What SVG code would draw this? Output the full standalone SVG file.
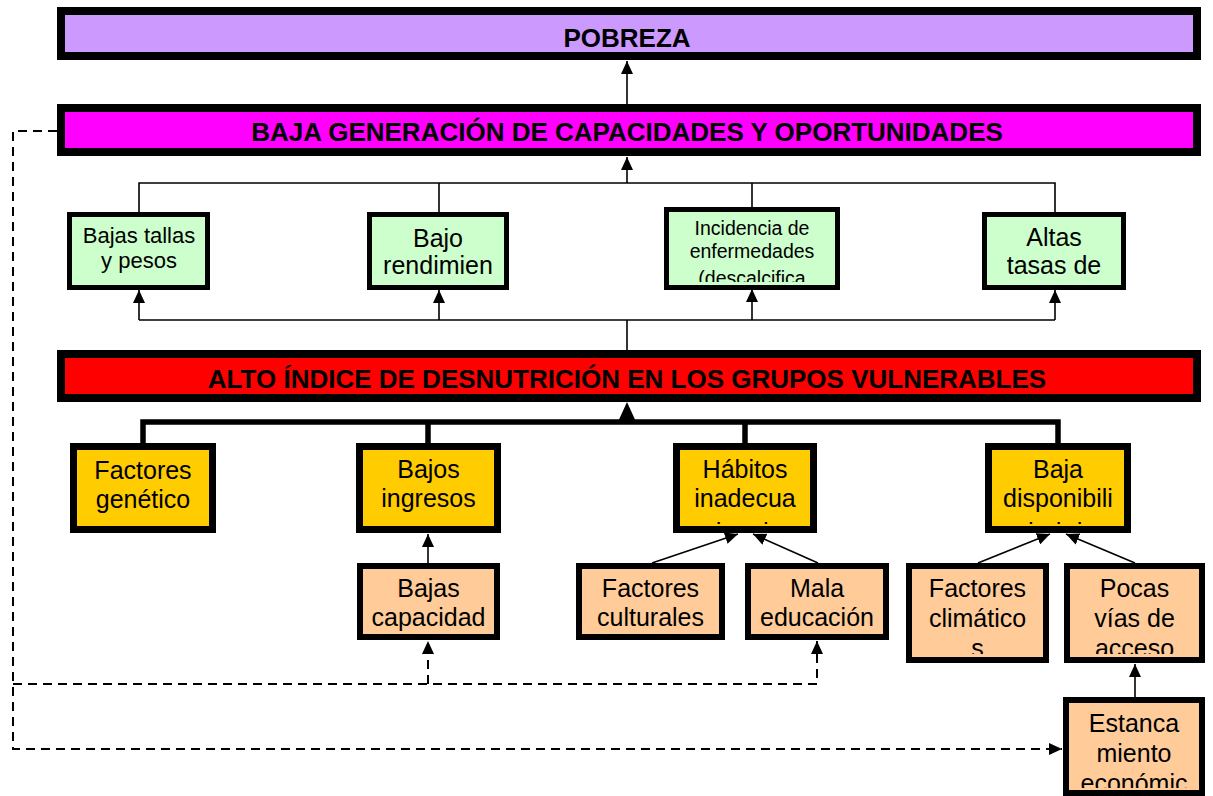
<svg xmlns="http://www.w3.org/2000/svg" width="1213" height="796" viewBox="0 0 1213 796">
<style>
.t{font-family:"Liberation Sans",Arial,sans-serif;fill:#000;text-anchor:middle}
.title{font-weight:bold;font-size:26px}
.b{stroke:#000;stroke-linejoin:miter}
.big{stroke-width:8}
.gr{fill:#CCFFCC;stroke-width:5}
.ye{fill:#FFCC00;stroke-width:7}
.or{fill:#FFCC99;stroke-width:6}
.ln{fill:none;stroke:#000;stroke-width:1.6}
.thick{fill:none;stroke:#000;stroke-width:5.5}
.dash{fill:none;stroke:#000;stroke-width:2;stroke-dasharray:9 6}
</style>
<defs>
<marker id="arr" viewBox="0 0 13 12" refX="13" refY="6" markerWidth="13" markerHeight="12" markerUnits="userSpaceOnUse" orient="auto">
<path d="M0,0 L13,6 L0,12 z" fill="#000"/>
</marker>
<clipPath id="cInc"><rect x="667" y="211" width="170" height="71"/></clipPath>
<clipPath id="cHab"><rect x="677" y="447" width="137" height="77"/></clipPath>
<clipPath id="cDis"><rect x="989" y="447" width="139" height="77"/></clipPath>
<clipPath id="cCli"><rect x="909" y="566" width="137" height="88"/></clipPath>
<clipPath id="cPoc"><rect x="1067" y="566" width="135" height="88"/></clipPath>
<clipPath id="cEst"><rect x="1066" y="700" width="136" height="88"/></clipPath>
</defs>

<g id="connectors">
<line class="ln" x1="627" y1="104" x2="627" y2="61" marker-end="url(#arr)"/>
<line class="ln" x1="627" y1="183" x2="627" y2="157" marker-end="url(#arr)"/>
<path class="ln" d="M139,212 V183 H1055 V212"/>
<line class="ln" x1="439" y1="183" x2="439" y2="212"/>
<line class="ln" x1="752" y1="183" x2="752" y2="207"/>
<line class="ln" x1="627" y1="350" x2="627" y2="320"/>
<line class="ln" x1="139" y1="320" x2="1055" y2="320"/>
<line class="ln" x1="139" y1="320" x2="139" y2="290" marker-end="url(#arr)"/>
<line class="ln" x1="439" y1="320" x2="439" y2="290" marker-end="url(#arr)"/>
<line class="ln" x1="752" y1="320" x2="752" y2="289" marker-end="url(#arr)"/>
<line class="ln" x1="1055" y1="320" x2="1055" y2="290" marker-end="url(#arr)"/>
<path class="thick" d="M143,443 V422 H1058 V443"/>
<line class="thick" x1="428" y1="422" x2="428" y2="443"/>
<line class="thick" x1="745" y1="422" x2="745" y2="443"/>
<polygon points="627,402 617,424 637,424" fill="#000"/>
<line class="ln" x1="428" y1="563" x2="428" y2="534" marker-end="url(#arr)"/>
<line class="ln" x1="652" y1="563" x2="738" y2="534" marker-end="url(#arr)"/>
<line class="ln" x1="818" y1="563" x2="753" y2="534" marker-end="url(#arr)"/>
<line class="ln" x1="978" y1="563" x2="1050" y2="534" marker-end="url(#arr)"/>
<line class="ln" x1="1135" y1="563" x2="1066" y2="534" marker-end="url(#arr)"/>
<line class="ln" x1="1135" y1="697" x2="1135" y2="664" marker-end="url(#arr)"/>
<path class="dash" d="M57,131 H13 V749 H1062" marker-end="url(#arr)"/>
<path class="dash" d="M13,684 H817 V641" marker-end="url(#arr)"/>
<line class="dash" x1="428" y1="684" x2="428" y2="641" marker-end="url(#arr)"/>
</g>

<g id="pobreza">
<rect class="b big" x="61" y="11" width="1136" height="45" fill="#CC99FF"/>
<text class="t title" x="627" y="47">POBREZA</text>
</g>
<g id="baja-generacion">
<rect class="b big" x="61" y="108" width="1136" height="44" fill="#FF00FF"/>
<text class="t title" x="627" y="141">BAJA GENERACIÓN DE CAPACIDADES Y OPORTUNIDADES</text>
</g>
<g id="alto-indice">
<rect class="b big" x="61" y="354" width="1136" height="44" fill="#FF0000"/>
<text class="t title" x="627" y="388">ALTO ÍNDICE DE DESNUTRICIÓN EN LOS GRUPOS VULNERABLES</text>
</g>

<g id="bajas-tallas">
<rect class="b gr" x="69.5" y="214.5" width="138" height="73"/>
<text class="t" font-size="22" x="139" y="243">Bajas tallas</text>
<text class="t" font-size="22" x="139" y="268">y pesos</text>
</g>
<g id="bajo-rendimiento">
<rect class="b gr" x="369.5" y="214.5" width="137" height="73"/>
<text class="t" font-size="25" x="438" y="247">Bajo</text>
<text class="t" font-size="25" x="438" y="274">rendimien</text>
</g>
<g id="incidencia">
<rect class="b gr" x="666.5" y="209.5" width="171" height="78"/>
<g clip-path="url(#cInc)">
<text class="t" font-size="19.5" x="752" y="235">Incidencia de</text>
<text class="t" font-size="19.5" x="752" y="258">enfermedades</text>
<text class="t" font-size="19.5" x="752" y="285">(descalcifica</text>
</g>
</g>
<g id="altas-tasas">
<rect class="b gr" x="984.5" y="214.5" width="139" height="73"/>
<text class="t" font-size="25" x="1054" y="246">Altas</text>
<text class="t" font-size="25" x="1054" y="274">tasas de</text>
</g>

<g id="factores-geneticos">
<rect class="b ye" x="73.5" y="446.5" width="139" height="83"/>
<text class="t" font-size="25" x="143" y="479">Factores</text>
<text class="t" font-size="25" x="143" y="508">genético</text>
</g>
<g id="bajos-ingresos">
<rect class="b ye" x="359.5" y="446.5" width="138" height="83"/>
<text class="t" font-size="25" x="428.5" y="478">Bajos</text>
<text class="t" font-size="25" x="428.5" y="507">ingresos</text>
</g>
<g id="habitos">
<rect class="b ye" x="676.5" y="446.5" width="137" height="83"/>
<g clip-path="url(#cHab)">
<text class="t" font-size="25" x="745" y="478">Hábitos</text>
<text class="t" font-size="25" x="745" y="507">inadecua</text>
<text class="t" font-size="25" x="745" y="541">dos de</text>
</g>
</g>
<g id="baja-disponibilidad">
<rect class="b ye" x="988.5" y="446.5" width="139" height="83"/>
<g clip-path="url(#cDis)">
<text class="t" font-size="25" x="1058" y="478">Baja</text>
<text class="t" font-size="25" x="1058" y="507">disponibili</text>
<text class="t" font-size="25" x="1058" y="541">dad de</text>
</g>
</g>

<g id="bajas-capacidades">
<rect class="b or" x="360" y="566" width="137" height="71"/>
<text class="t" font-size="25" x="428.5" y="597">Bajas</text>
<text class="t" font-size="25" x="428.5" y="626">capacidad</text>
</g>
<g id="factores-culturales">
<rect class="b or" x="579" y="566" width="143" height="71"/>
<text class="t" font-size="25" x="650.5" y="597">Factores</text>
<text class="t" font-size="25" x="650.5" y="626">culturales</text>
</g>
<g id="mala-educacion">
<rect class="b or" x="748" y="566" width="138" height="71"/>
<text class="t" font-size="25" x="817" y="597">Mala</text>
<text class="t" font-size="25" x="817" y="626">educación</text>
</g>
<g id="factores-climaticos">
<rect class="b or" x="909" y="566" width="137" height="94"/>
<g clip-path="url(#cCli)">
<text class="t" font-size="25" x="977.5" y="597">Factores</text>
<text class="t" font-size="25" x="977.5" y="627">climático</text>
<text class="t" font-size="25" x="977.5" y="657">s</text>
</g>
</g>
<g id="pocas-vias">
<rect class="b or" x="1067" y="566" width="135" height="94"/>
<g clip-path="url(#cPoc)">
<text class="t" font-size="25" x="1134.5" y="597">Pocas</text>
<text class="t" font-size="25" x="1134.5" y="627">vías de</text>
<text class="t" font-size="25" x="1134.5" y="657">acceso</text>
</g>
</g>
<g id="estancamiento">
<rect class="b or" x="1066" y="700" width="136" height="93"/>
<g clip-path="url(#cEst)">
<text class="t" font-size="25" x="1134" y="732">Estanca</text>
<text class="t" font-size="25" x="1134" y="762">miento</text>
<text class="t" font-size="25" x="1134" y="792">económic</text>
</g>
</g>
</svg>
